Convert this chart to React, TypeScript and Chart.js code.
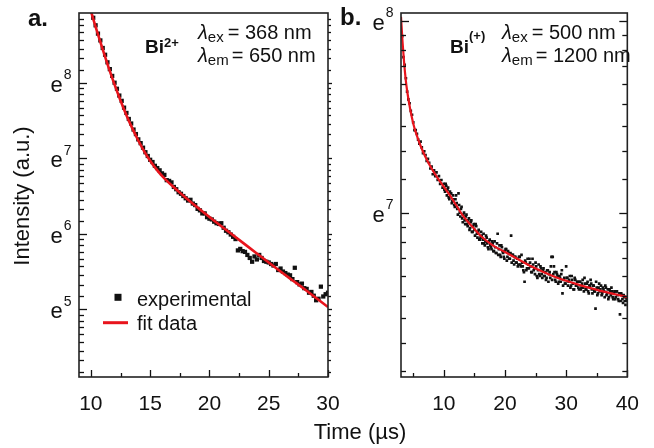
import React, { useEffect, useRef } from "react";
import { Chart, registerables } from "chart.js";
Chart.register(...registerables);

const W = 654;
const H = 448;
const FONT = '"Liberation Sans", Arial, Helvetica, sans-serif';
const INK = "#111111";
const RED = "#e8141c";

// ---------- Panel a : Bi2+ (ln of intensity) ----------
const timeA = [
  10.2, 10.4, 10.6, 10.8, 11.0, 11.2, 11.4, 11.6, 11.8, 12.0,
  12.2, 12.4, 12.6, 12.8, 13.0, 13.2, 13.4, 13.6, 13.8, 14.0,
  14.2, 14.4, 14.6, 14.8, 15.0, 15.2, 15.4, 15.6, 15.8, 16.0,
  16.2, 16.4, 16.6, 16.8, 17.0, 17.2, 17.4, 17.6, 17.8, 18.0,
  18.2, 18.4, 18.6, 18.8, 19.0, 19.2, 19.4, 19.6, 19.8, 20.0,
  20.2, 20.4, 20.6, 20.8, 21.0, 21.2, 21.4, 21.6, 21.8, 22.0,
  22.2, 22.4, 22.6, 22.8, 23.0, 23.2, 23.4, 23.6, 23.8, 24.0,
  24.2, 24.4, 24.6, 24.8, 25.0, 25.2, 25.4, 25.6, 25.8, 26.0,
  26.2, 26.4, 26.6, 26.8, 27.0, 27.2, 27.4, 27.6, 27.8, 28.0,
  28.2, 28.4, 28.6, 28.8, 29.0, 29.2, 29.4, 29.6, 29.8, 30.0,
];
const expA = [
  8.86, 8.76, 8.65, 8.56, 8.46, 8.37, 8.27, 8.18, 8.09, 8.00,
  7.92, 7.83, 7.76, 7.67, 7.60, 7.52, 7.46, 7.38, 7.32, 7.25,
  7.20, 7.14, 7.08, 7.03, 6.98, 6.95, 6.90, 6.87, 6.84, 6.80,
  6.78, 6.71, 6.70, 6.68, 6.62, 6.59, 6.55, 6.53, 6.50, 6.47,
  6.44, 6.45, 6.40, 6.38, 6.33, 6.31, 6.27, 6.27, 6.22, 6.20,
  6.19, 6.16, 6.14, 6.13, 6.14, 6.08, 6.04, 6.02, 5.99, 5.96,
  5.93, 5.78, 5.80, 5.77, 5.76, 5.72, 5.68, 5.63, 5.70, 5.66,
  5.72, 5.68, 5.64, 5.63, 5.62, 5.60, 5.58, 5.60, 5.52, 5.54,
  5.50, 5.48, 5.46, 5.45, 5.40, 5.55, 5.36, 5.33, 5.34, 5.28,
  5.27, 5.22, 5.23, 5.18, 5.12, 5.14, 5.30, 5.17, 5.20, 5.22,
];
const fitTimeA = [10, 10.5, 11, 11.5, 12, 12.5, 13, 13.5, 14, 14.5, 15, 15.5, 16, 16.5, 17, 17.5, 18, 19, 20, 21, 22, 23, 24, 25, 26, 27, 28, 29, 30];
const fitA = [8.95, 8.69, 8.44, 8.2, 7.975, 7.765, 7.57, 7.395, 7.235, 7.092, 6.967, 6.86, 6.767, 6.688, 6.615, 6.545, 6.478, 6.348, 6.222, 6.1, 5.98, 5.86, 5.74, 5.62, 5.5, 5.385, 5.27, 5.15, 5.03];
const xTicksA = [10, 15, 20, 25, 30];
const xMinorA = [12.5, 17.5, 22.5, 27.5];
const yExpA = [5, 6, 7, 8];

// ---------- Panel b : Bi(+) (ln of intensity) ----------
const timeB = [
  3.2, 3.4, 3.6, 3.8, 4.0, 4.2, 4.4, 4.6, 4.8, 5.0,
  5.2, 5.4, 5.6, 5.8, 6.0, 6.2, 6.4, 6.6, 6.8, 7.0,
  7.2, 7.4, 7.6, 7.8, 8.0, 8.2, 8.4, 8.6, 8.8, 9.0,
  9.2, 9.4, 9.6, 9.8, 10.0, 10.2, 10.4, 10.6, 10.8, 11.0,
  11.2, 11.4, 11.6, 11.8, 12.0, 12.2, 12.4, 12.6, 12.8, 13.0,
  13.2, 13.4, 13.6, 13.8, 14.0, 14.2, 14.4, 14.6, 14.8, 15.0,
  15.2, 15.4, 15.6, 15.8, 16.0, 16.2, 16.4, 16.6, 16.8, 17.0,
  17.2, 17.4, 17.6, 17.8, 18.0, 18.2, 18.4, 18.6, 18.8, 19.0,
  19.2, 19.4, 19.6, 19.8, 20.0, 20.2, 20.4, 20.6, 20.8, 21.0,
  21.2, 21.4, 21.6, 21.8, 22.0, 22.2, 22.4, 22.6, 22.8, 23.0,
  23.2, 23.4, 23.6, 23.8, 24.0, 24.2, 24.4, 24.6, 24.8, 25.0,
  25.2, 25.4, 25.6, 25.8, 26.0, 26.2, 26.4, 26.6, 26.8, 27.0,
  27.2, 27.4, 27.6, 27.8, 28.0, 28.2, 28.4, 28.6, 28.8, 29.0,
  29.2, 29.4, 29.6, 29.8, 30.0, 30.2, 30.4, 30.6, 30.8, 31.0,
  31.2, 31.4, 31.6, 31.8, 32.0, 32.2, 32.4, 32.6, 32.8, 33.0,
  33.2, 33.4, 33.6, 33.8, 34.0, 34.2, 34.4, 34.6, 34.8, 35.0,
  35.2, 35.4, 35.6, 35.8, 36.0, 36.2, 36.4, 36.6, 36.8, 37.0,
  37.2, 37.4, 37.6, 37.8, 38.0, 38.2, 38.4, 38.6, 38.8, 39.0,
  39.2, 39.4, 39.6, 39.8, 40.0,
];
const expB = [
  7.92, 7.81, 7.77, 7.70, 7.63, 7.59, 7.57, 7.53, 7.51, 7.47,
  7.43, 7.43, 7.41, 7.38, 7.36, 7.37, 7.34, 7.31, 7.32, 7.30,
  7.27, 7.28, 7.26, 7.23, 7.24, 7.20, 7.22, 7.19, 7.21, 7.17,
  7.19, 7.15, 7.17, 7.13, 7.15, 7.11, 7.14, 7.12, 7.08, 7.11,
  7.10, 7.06, 7.07, 7.03, 7.09, 7.02, 7.10, 7.00, 7.02, 6.97,
  6.99, 6.96, 6.98, 6.94, 6.96, 6.91, 6.95, 6.90, 6.93, 6.91,
  6.94, 6.89, 6.90, 6.86, 6.87, 6.88, 6.86, 6.84, 6.85, 6.87,
  6.82, 6.85, 6.83, 6.81, 6.84, 6.80, 6.82, 6.79, 6.89, 6.81,
  6.78, 6.83, 6.80, 6.77, 6.80, 6.81, 6.77, 6.79, 6.76, 6.88,
  6.78, 6.75, 6.77, 6.74, 6.76, 6.73, 6.77, 6.72, 6.74, 6.70,
  6.64, 6.74, 6.71, 6.73, 6.76, 6.72, 6.69, 6.73, 6.71, 6.74,
  6.67, 6.70, 6.68, 6.72, 6.68, 6.70, 6.67, 6.69, 6.66, 6.70,
  6.68, 6.66, 6.77, 6.77, 6.72, 6.65, 6.69, 6.67, 6.64, 6.66,
  6.68, 6.58, 6.65, 6.63, 6.72, 6.66, 6.64, 6.67, 6.62, 6.65,
  6.60, 6.66, 6.62, 6.64, 6.61, 6.64, 6.60, 6.63, 6.61, 6.66,
  6.60, 6.63, 6.59, 6.62, 6.65, 6.60, 6.62, 6.59, 6.50, 6.61,
  6.58, 6.63, 6.60, 6.57, 6.61, 6.59, 6.62, 6.57, 6.60, 6.56,
  6.59, 6.61, 6.56, 6.58, 6.55, 6.59, 6.57, 6.54, 6.47, 6.58,
  6.55, 6.57, 6.54, 6.56, 6.54,
];
// second interleaved set of measured points (odd tenths)
const timeB2 = [
  10.1, 10.3, 10.5, 10.7, 10.9, 11.1, 11.3, 11.5, 11.7, 11.9,
  12.1, 12.3, 12.5, 12.7, 12.9, 13.1, 13.3, 13.5, 13.7, 13.9,
  14.1, 14.3, 14.5, 14.7, 14.9, 15.1, 15.3, 15.5, 15.7, 15.9,
  16.1, 16.3, 16.5, 16.7, 16.9, 17.1, 17.3, 17.5, 17.7, 17.9,
  18.1, 18.3, 18.5, 18.7, 18.9, 19.1, 19.3, 19.5, 19.7, 19.9,
  20.1, 20.3, 20.5, 20.7, 20.9, 21.1, 21.3, 21.5, 21.7, 21.9,
  22.1, 22.3, 22.5, 22.7, 22.9, 23.1, 23.3, 23.5, 23.7, 23.9,
  24.1, 24.3, 24.5, 24.7, 24.9, 25.1, 25.3, 25.5, 25.7, 25.9,
  26.1, 26.3, 26.5, 26.7, 26.9, 27.1, 27.3, 27.5, 27.7, 27.9,
  28.1, 28.3, 28.5, 28.7, 28.9, 29.1, 29.3, 29.5, 29.7, 29.9,
  30.1, 30.3, 30.5, 30.7, 30.9, 31.1, 31.3, 31.5, 31.7, 31.9,
  32.1, 32.3, 32.5, 32.7, 32.9, 33.1, 33.3, 33.5, 33.7, 33.9,
  34.1, 34.3, 34.5, 34.7, 34.9, 35.1, 35.3, 35.5, 35.7, 35.9,
  36.1, 36.3, 36.5, 36.7, 36.9, 37.1, 37.3, 37.5, 37.7, 37.9,
  38.1, 38.3, 38.5, 38.7, 38.9, 39.1, 39.3, 39.5, 39.7, 39.9,
];
const expB2 = [
  7.12, 7.15, 7.09, 7.13, 7.07, 7.10, 7.05, 7.09, 7.04, 7.07,
  7.05, 6.99, 7.04, 6.98, 7.03, 6.95, 7.00, 6.94, 6.99, 6.93,
  6.97, 6.92, 6.96, 6.90, 6.94, 6.88, 6.93, 6.87, 6.91, 6.86,
  6.90, 6.84, 6.89, 6.83, 6.88, 6.84, 6.81, 6.86, 6.82, 6.85,
  6.80, 6.85, 6.79, 6.84, 6.78, 6.83, 6.77, 6.82, 6.79, 6.76,
  6.81, 6.75, 6.80, 6.76, 6.79, 6.74, 6.78, 6.73, 6.77, 6.74,
  6.72, 6.77, 6.73, 6.78, 6.72, 6.69, 6.75, 6.70, 6.76, 6.71,
  6.74, 6.69, 6.76, 6.70, 6.68, 6.72, 6.66, 6.73, 6.67, 6.71,
  6.66, 6.71, 6.67, 6.65, 6.70, 6.64, 6.69, 6.72, 6.65, 6.68,
  6.69, 6.64, 6.68, 6.63, 6.67, 6.64, 6.70, 6.62, 6.66, 6.63,
  6.66, 6.62, 6.65, 6.61, 6.67, 6.63, 6.60, 6.65, 6.62, 6.64,
  6.60, 6.64, 6.61, 6.65, 6.59, 6.63, 6.60, 6.64, 6.58, 6.62,
  6.63, 6.58, 6.62, 6.59, 6.64, 6.57, 6.61, 6.59, 6.62, 6.58,
  6.60, 6.56, 6.61, 6.58, 6.55, 6.60, 6.57, 6.59, 6.55, 6.59,
  6.56, 6.59, 6.55, 6.58, 6.54, 6.57, 6.53, 6.56, 6.52, 6.55,
];
const fitTimeB = [3, 3.25, 3.5, 3.75, 4, 4.5, 5, 5.5, 6, 6.5, 7, 8, 9, 10, 11, 12, 13, 14, 15, 16, 18, 20, 22, 24, 26, 28, 30, 32, 34, 36, 38, 40];
const fitB = [8.02, 7.89, 7.785, 7.7, 7.635, 7.54, 7.465, 7.41, 7.365, 7.325, 7.29, 7.23, 7.18, 7.135, 7.09, 7.04, 6.99, 6.95, 6.915, 6.88, 6.83, 6.795, 6.76, 6.725, 6.695, 6.668, 6.645, 6.625, 6.607, 6.59, 6.575, 6.56];
const xTicksB = [10, 20, 30, 40];
const xMinorB = [5, 15, 25, 35];
const yExpB = [7, 8];

type Run = { t: string; f: string; dy?: number; gap?: number };

function drawRuns(ctx: CanvasRenderingContext2D, x: number, y: number, runs: Run[]) {
  let cx = x;
  for (const r of runs) {
    cx += r.gap || 0;
    ctx.font = r.f;
    ctx.fillText(r.t, cx, y + (r.dy || 0));
    cx += ctx.measureText(r.t).width;
  }
}

type PanelCfg = {
  xMajor: number[];
  xMinor: number[];
  yExp: number[];
  rightOut: boolean;
  extra: (ctx: CanvasRenderingContext2D) => void;
};

function decorPlugin(cfg: PanelCfg) {
  return {
    id: "decor",
    afterDatasetsDraw(chart: any) {
      const ctx: CanvasRenderingContext2D = chart.ctx;
      const a = chart.chartArea;
      const xs = chart.scales.x;
      const ys = chart.scales.y;
      ctx.save();
      ctx.strokeStyle = INK;
      ctx.fillStyle = INK;
      ctx.lineWidth = 1.3;
      const line = (x1: number, y1: number, x2: number, y2: number) => {
        ctx.beginPath();
        ctx.moveTo(x1, y1);
        ctx.lineTo(x2, y2);
        ctx.stroke();
      };
      const lo = Math.floor(ys.min);
      const hi = Math.ceil(ys.max);
      for (let n = lo; n <= hi; n++) {
        for (let k = 0; k < 9; k++) {
          const v = n + Math.log(1 + (k * (Math.E - 1)) / 9);
          if (v < ys.min || v > ys.max) continue;
          const py = Math.round(ys.getPixelForValue(v)) + 0.5;
          const major = k === 0;
          line(a.left, py, a.left + (major ? 8 : 5), py);
          if (cfg.rightOut) line(a.right, py, a.right + (major ? 4 : 3), py);
          else line(a.right, py, a.right - (major ? 8 : 5), py);
        }
      }
      for (const v of cfg.xMajor) {
        const px = Math.round(xs.getPixelForValue(v)) + 0.5;
        line(px, a.bottom, px, a.bottom - 7);
      }
      for (const v of cfg.xMinor) {
        const px = Math.round(xs.getPixelForValue(v)) + 0.5;
        line(px, a.bottom, px, a.bottom - 4);
      }
      ctx.lineWidth = 1.6;
      ctx.strokeStyle = "#222";
      ctx.strokeRect(a.left, a.top, a.right - a.left, a.bottom - a.top);
      ctx.textBaseline = "alphabetic";
      for (const n of cfg.yExp) {
        const py = ys.getPixelForValue(n);
        ctx.textAlign = "right";
        ctx.font = `14px ${FONT}`;
        const supX = a.left - 7.5;
        ctx.fillText(String(n), supX, py - 3.5);
        const sw = ctx.measureText(String(n)).width;
        ctx.font = `22px ${FONT}`;
        ctx.fillText("e", supX - sw - 1, py + 9);
      }
      ctx.textAlign = "left";
      cfg.extra(ctx);
      ctx.restore();
    },
  };
}

function buildChart(
  canvas: HTMLCanvasElement,
  pts: { x: number; y: number }[],
  fit: { x: number; y: number }[],
  opts: {
    xmin: number; xmax: number; ymin: number; ymax: number;
    pad: { left: number; right: number; top: number };
    xTicks: number[]; radius: number; lineW: number; cfg: PanelCfg;
  }
) {
  return new Chart(canvas, {
    type: "scatter",
    data: {
      datasets: [
        {
          label: "fit data",
          data: fit,
          showLine: true,
          borderColor: RED,
          borderWidth: opts.lineW,
          pointRadius: 0,
          cubicInterpolationMode: "monotone",
          order: 0,
        } as any,
        {
          label: "experimental",
          data: pts,
          pointStyle: "rect",
          pointRadius: opts.radius,
          backgroundColor: INK,
          borderWidth: 0,
          order: 1,
        } as any,
      ],
    },
    options: {
      responsive: false,
      animation: false,
      devicePixelRatio: 1,
      events: [],
      layout: { padding: { left: opts.pad.left, right: opts.pad.right, top: opts.pad.top, bottom: 0 } },
      plugins: { legend: { display: false }, tooltip: { enabled: false } },
      scales: {
        x: {
          type: "linear",
          min: opts.xmin,
          max: opts.xmax,
          grid: { display: false, drawTicks: false },
          border: { display: false },
          ticks: { font: { family: FONT, size: 21 }, color: INK, padding: 15, maxRotation: 0, autoSkip: false },
          afterBuildTicks: (s: any) => {
            s.ticks = opts.xTicks.map((value) => ({ value }));
          },
          afterFit: (s: any) => {
            s.height = 71;
          },
        },
        y: { type: "linear", display: false, min: opts.ymin, max: opts.ymax },
      },
    } as any,
    plugins: [decorPlugin(opts.cfg)],
  });
}

const toPts = (t: number[], v: number[]) => t.map((x, i) => ({ x, y: v[i] }));

export default function App() {
  const refA = useRef<HTMLCanvasElement>(null);
  const refB = useRef<HTMLCanvasElement>(null);

  useEffect(() => {
    const cfgA: PanelCfg = {
      xMajor: xTicksA,
      xMinor: xMinorA,
      yExp: yExpA,
      rightOut: true,
      extra: (ctx) => {
        ctx.fillStyle = INK;
        ctx.textAlign = "left";
        drawRuns(ctx, 28, 26, [{ t: "a.", f: `bold 24px ${FONT}` }]);
        drawRuns(ctx, 340, 25, [{ t: "b.", f: `bold 24px ${FONT}` }]);
        drawRuns(ctx, 145, 53, [
          { t: "Bi", f: `bold 19px ${FONT}` },
          { t: "2+", f: `bold 13px ${FONT}`, dy: -6 },
        ]);
        drawRuns(ctx, 198, 39, [
          { t: "λ", f: `italic 20px ${FONT}` },
          { t: "ex", f: `15px ${FONT}`, dy: 3 },
          { t: "= 368 nm", f: `20px ${FONT}`, gap: 4 },
        ]);
        drawRuns(ctx, 198, 62, [
          { t: "λ", f: `italic 20px ${FONT}` },
          { t: "em", f: `15px ${FONT}`, dy: 3 },
          { t: "= 650 nm", f: `20px ${FONT}`, gap: 3 },
        ]);
        ctx.fillRect(114.5, 293.8, 7, 7);
        drawRuns(ctx, 137, 306, [{ t: "experimental", f: `20px ${FONT}` }]);
        ctx.strokeStyle = RED;
        ctx.lineWidth = 3;
        ctx.beginPath();
        ctx.moveTo(103, 322.7);
        ctx.lineTo(128, 322.7);
        ctx.stroke();
        drawRuns(ctx, 137, 330, [{ t: "fit data", f: `20px ${FONT}` }]);
        ctx.font = `22px ${FONT}`;
        ctx.textAlign = "center";
        ctx.fillText("Time (µs)", 360, 439);
        ctx.save();
        ctx.translate(29, 196);
        ctx.rotate(-Math.PI / 2);
        ctx.fillText("Intensity (a.u.)", 0, 0);
        ctx.restore();
      },
    };
    const cfgB: PanelCfg = {
      xMajor: xTicksB,
      xMinor: xMinorB,
      yExp: yExpB,
      rightOut: false,
      extra: (ctx) => {
        ctx.fillStyle = INK;
        ctx.textAlign = "left";
        drawRuns(ctx, 450, 53, [
          { t: "Bi", f: `bold 19px ${FONT}` },
          { t: "(+)", f: `bold 13px ${FONT}`, dy: -13 },
        ]);
        drawRuns(ctx, 502, 39, [
          { t: "λ", f: `italic 20px ${FONT}` },
          { t: "ex", f: `15px ${FONT}`, dy: 3 },
          { t: "= 500 nm", f: `20px ${FONT}`, gap: 4 },
        ]);
        drawRuns(ctx, 502, 62, [
          { t: "λ", f: `italic 20px ${FONT}` },
          { t: "em", f: `15px ${FONT}`, dy: 3 },
          { t: "= 1200 nm", f: `20px ${FONT}`, gap: 3 },
        ]);
      },
    };
    const ca = buildChart(refA.current!, toPts(timeA, expA), toPts(fitTimeA, fitA), {
      xmin: 9, xmax: 30, ymin: 4.104, ymax: 8.923,
      pad: { left: 79, right: W - 328, top: 13 },
      xTicks: xTicksA, radius: 3.0, lineW: 2.6, cfg: cfgA,
    });
    const cb = buildChart(
      refB.current!,
      toPts(timeB, expB).concat(toPts(timeB2, expB2)),
      toPts(fitTimeB, fitB),
      {
        xmin: 3, xmax: 40, ymin: 6.144, ymax: 8.04,
        pad: { left: 401, right: W - 642, top: 13 },
        xTicks: xTicksB, radius: 1.9, lineW: 2.2, cfg: cfgB,
      }
    );
    return () => {
      ca.destroy();
      cb.destroy();
    };
  }, []);

  return (
    <div style={{ position: "fixed", left: 0, top: 0, width: W, height: H, background: "#fff" }}>
      <canvas ref={refA} width={W} height={H} style={{ position: "absolute", left: 0, top: 0 }} />
      <canvas ref={refB} width={W} height={H} style={{ position: "absolute", left: 0, top: 0 }} />
    </div>
  );
}
